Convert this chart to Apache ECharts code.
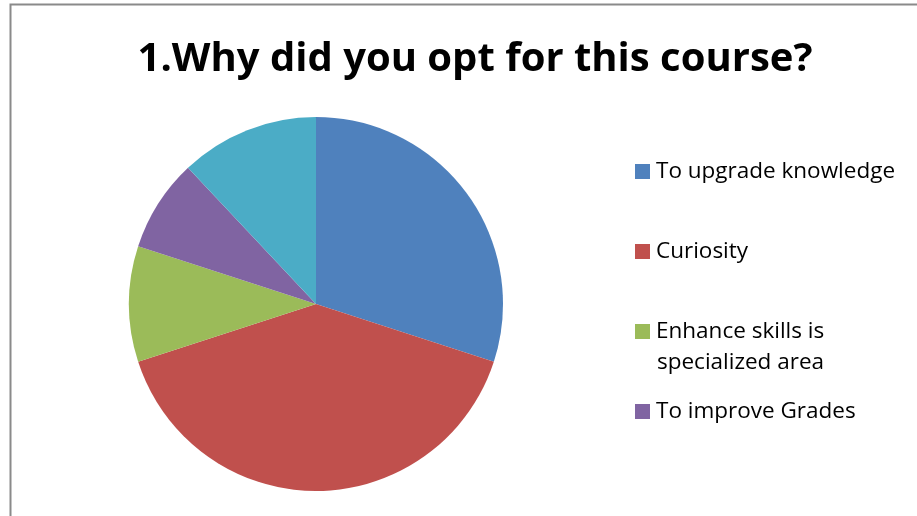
<!DOCTYPE html>
<html><head><meta charset="utf-8">
<script src="https://cdn.jsdelivr.net/npm/echarts@6/dist/echarts.min.js"></script>
<style>html,body{margin:0;padding:0;background:#fff}#c{width:917px;height:516px}</style>
</head><body><div id="c"></div>
<script>
const categories = ["To upgrade knowledge", "Curiosity", "Enhance skills is specialized area", "To improve Grades", "Others"];
const values = [30, 40, 10, 8, 12];
const colors = ["#4F81BD", "#C0504D", "#9BBB59", "#8064A2", "#4BACC6"];
const titleText = "1.Why did you opt for this course?";
const legendLines = {"Enhance skills is specialized area": ["Enhance skills is", "specialized area"]};

const chart = echarts.init(document.getElementById('c'), null, {renderer: 'canvas'});
const legendTops = [160, 240, 320, 400];
const legendFont = {fontFamily: 'Open Sans', fontSize: 22.5, color: '#000'};
const legends = categories.slice(0, 4).map((n, i) => ({
  data: [n], left: 635, top: legendTops[i], orient: 'vertical', padding: 0,
  itemWidth: 15, itemHeight: 15, itemGap: 0, icon: 'rect', selectedMode: false,
  formatter: name => legendLines[name] ? legendLines[name][0] : name,
  textStyle: Object.assign({padding: [0, 0, 0, 1]}, legendFont)
}));
const extraText = [];
Object.keys(legendLines).forEach(n => {
  const i = categories.indexOf(n);
  extraText.push({type: 'text', left: 657, top: legendTops[i] + 31,
    style: {text: legendLines[n][1], fill: '#000', font: '22.5px "Open Sans"'}});
});
chart.setOption({
  animation: false,
  color: colors,
  title: {text: titleText, left: 470, top: 35, textAlign: 'center',
    textStyle: {fontFamily: 'Open Sans', fontWeight: 'bold', fontSize: 40, color: '#000'}},
  legend: legends,
  graphic: [{type: 'rect', shape: {x: 10.5, y: 4.5, width: 1000, height: 600},
    style: {fill: 'none', stroke: '#8a8a8a', lineWidth: 2}}].concat(extraText),
  series: [{
    type: 'pie', center: [316, 304], radius: 187, startAngle: 90, clockwise: true,
    label: {show: false}, labelLine: {show: false},
    itemStyle: {borderWidth: 0},
    emphasis: {disabled: true},
    data: categories.map((n, i) => ({name: n, value: values[i]}))
  }]
});
</script></body></html>
